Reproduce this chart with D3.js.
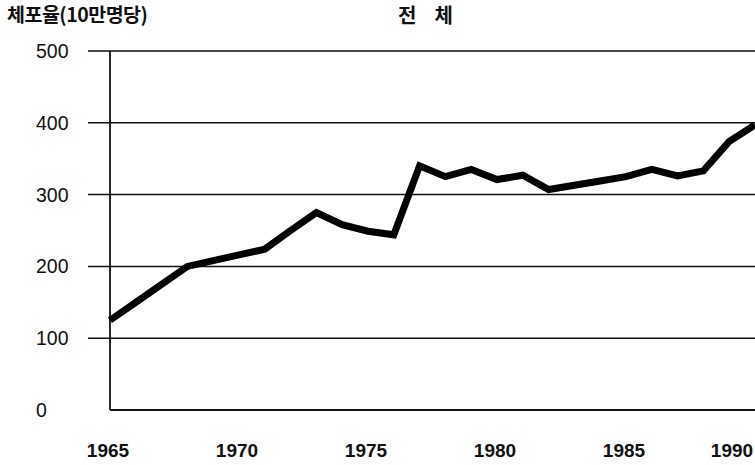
<!DOCTYPE html>
<html>
<head>
<meta charset="utf-8">
<script src="https://cdn.jsdelivr.net/npm/d3@7"></script>
<style>
    body { margin: 0; background: #fff; }
    svg { display: block; }
</style>
</head>
<body>
<div id="chart-area"></div>
<script>
// DATA
// =================
var years = [1965, 1966, 1967, 1968, 1969, 1970, 1971, 1972, 1973, 1974, 1975, 1976, 1977,
    1978, 1979, 1980, 1981, 1982, 1983, 1984, 1985, 1986, 1987, 1988, 1989, 1990];
var rates = [125, 150, 175, 200, 208, 216, 224, 250, 275, 258, 249, 244, 340,
    325, 335, 321, 327, 307, 313, 319, 325, 335, 326, 333, 374, 397];
var yTicks = [0, 100, 200, 300, 400, 500];
var xTicks = [1965, 1970, 1975, 1980, 1985, 1990];

var yTitle = '체포율(10만명당)';
var chartTitle = '전  체';

// CANVAS
// =================
var W = 755, H = 465;

var svg = d3.select('#chart-area')
    .append('svg')
        .attr('width', W)
        .attr('height', H);

var x = d3.scaleLinear()
    .domain([1965, 1990])
    .range([110, 755]);

var y = d3.scaleLinear()
    .domain([0, 500])
    .range([410, 51]);

// GRID
svg.selectAll('line.grid')
    .data(yTicks.filter(d => d > 0))
    .enter()
    .append('line')
        .attr('class', 'grid')
        .attr('x1', 88)
        .attr('x2', W)
        .attr('y1', d => y(d))
        .attr('y2', d => y(d))
        .attr('stroke', '#111')
        .attr('stroke-width', 1.5);

// AXES
svg.append('line')
    .attr('x1', x(1965)).attr('x2', x(1965))
    .attr('y1', y(0)).attr('y2', y(500))
    .attr('stroke', '#111')
    .attr('stroke-width', 1.8);

svg.append('line')
    .attr('x1', x(1965)).attr('x2', W)
    .attr('y1', y(0)).attr('y2', y(0))
    .attr('stroke', '#111')
    .attr('stroke-width', 1.8);

// Y LABELS
svg.selectAll('text.ylab')
    .data(yTicks)
    .enter()
    .append('text')
        .attr('class', 'ylab')
        .attr('x', 36)
        .attr('y', d => y(d) + 7)
        .attr('font-family', 'Liberation Sans, Arial, sans-serif')
        .attr('font-size', '19.5px')
        .attr('fill', '#111')
        .text(d => d);

// X LABELS
svg.selectAll('text.xlab')
    .data(xTicks)
    .enter()
    .append('text')
        .attr('class', 'xlab')
        .attr('x', d => d === 1990 ? x(d) - 23 : x(d) - 2)
        .attr('y', 457)
        .attr('text-anchor', 'middle')
        .attr('font-family', 'Liberation Sans, Arial, sans-serif')
        .attr('font-weight', 'bold')
        .attr('font-size', '19px')
        .attr('fill', '#111')
        .text(d => d);

// TITLES
svg.append('text')
    .attr('x', 7)
    .attr('y', 22)
    .attr('font-family', 'Noto Sans CJK KR, sans-serif')
    .attr('font-weight', 'bold')
    .attr('font-size', '19.5px')
    .attr('letter-spacing', '-0.5px')
    .attr('fill', '#111')
    .text(yTitle);

svg.append('text')
    .attr('x', 427)
    .attr('y', 23)
    .attr('text-anchor', 'middle')
    .attr('font-family', 'Noto Sans CJK KR, sans-serif')
    .attr('font-weight', 'bold')
    .attr('font-size', '20px')
    .attr('letter-spacing', '3px')
    .attr('fill', '#111')
    .style('white-space', 'pre')
    .text(chartTitle);

// LINE
var line = d3.line()
    .x((d, i) => x(years[i]))
    .y(d => y(d));

svg.append('path')
    .datum(rates)
    .attr('d', line)
    .attr('fill', 'none')
    .attr('stroke', '#000')
    .attr('stroke-width', 7)
    .attr('stroke-linejoin', 'miter');
</script>
</body>
</html>
